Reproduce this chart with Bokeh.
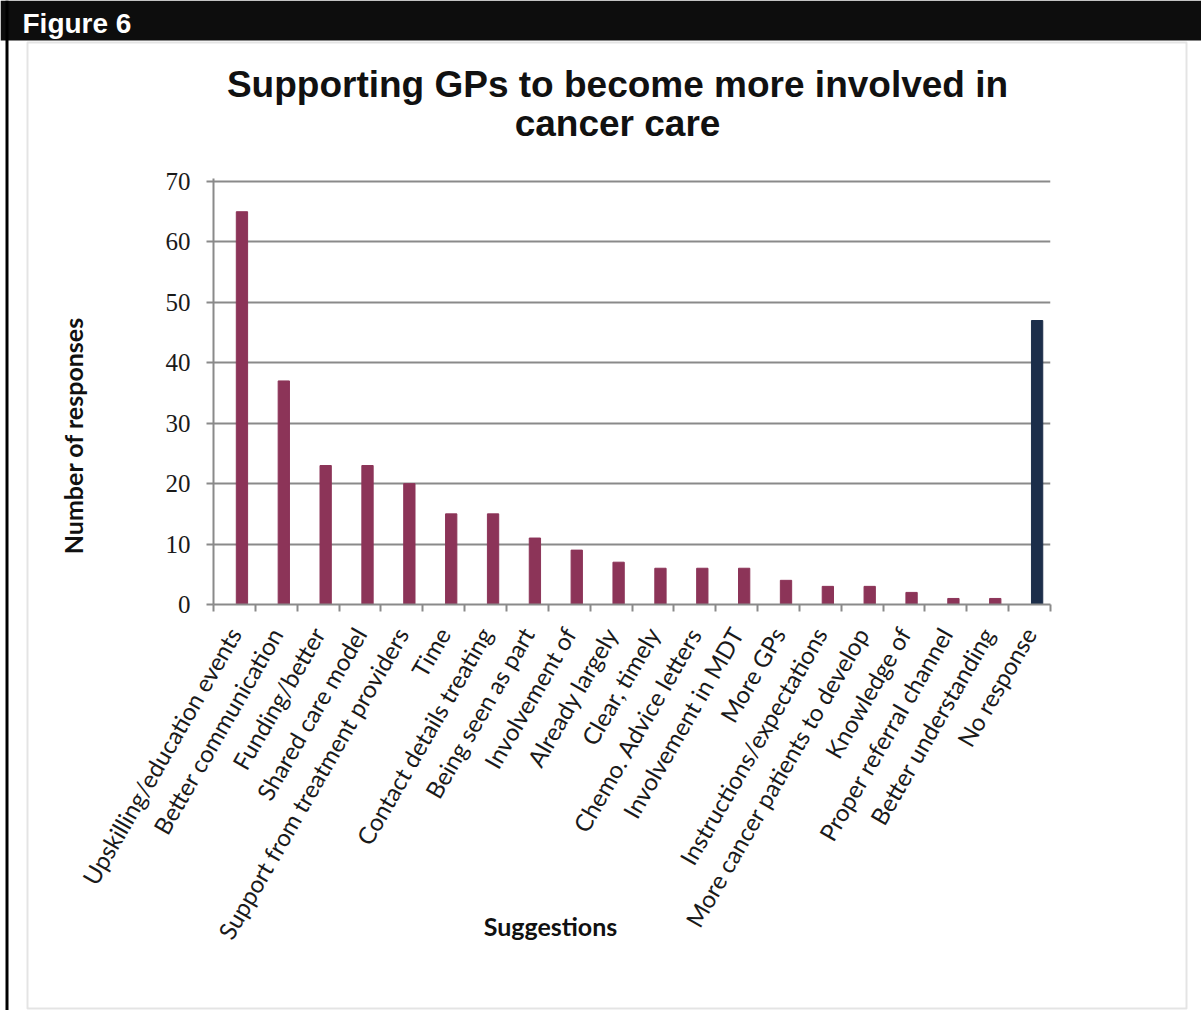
import math
from bokeh.plotting import figure
from bokeh.models import (ColumnDataSource, FixedTicker, Range1d, Label,
                          BoxAnnotation, GridBox)
from bokeh.transform import dodge
from bokeh.embed import file_html
from bokeh.resources import INLINE

categories = [
    "Upskilling/education events",
    "Better communication",
    "Funding/better",
    "Shared care model",
    "Support from treatment providers",
    "Time",
    "Contact details treating",
    "Being seen as part",
    "Involvement of",
    "Already largely",
    "Clear, timely",
    "Chemo. Advice letters",
    "Involvement in MDT",
    "More GPs",
    "Instructions/expectations",
    "More cancer patients to develop",
    "Knowledge of",
    "Proper referral channel",
    "Better understanding",
    "No response",
]
responses = [65, 37, 23, 23, 20, 15, 15, 11, 9, 7, 6, 6, 6, 4, 3, 3, 2, 1, 1, 47]
y_ticks = [0, 10, 20, 30, 40, 50, 60, 70]

MAROON = "#8C3458"
NAVY = "#1C2E4A"
colors = [MAROON] * (len(categories) - 1) + [NAVY]

W, H = 1201, 1010
n = len(categories)
centers = [i + 0.5 for i in range(n)]
src = ColumnDataSource(dict(x=centers, v=responses, color=colors, name=categories))

# ---------- background / decoration layer (full-canvas frame) ----------
bg = figure(width=W, height=H, output_backend="svg", toolbar_location=None,
            x_range=Range1d(0, W), y_range=Range1d(H, 0),
            x_axis_location=None, y_axis_location=None,
            min_border=0, frame_align=False)
bg.grid.visible = False
bg.outline_line_color = None
bg.background_fill_color = "white"
bg.border_fill_color = "white"

bg.add_layout(BoxAnnotation(left=0, right=W, top=0, bottom=40,
                            fill_color="#0d0d0d", fill_alpha=1, line_color=None))
bg.add_layout(BoxAnnotation(left=5, right=8, top=0, bottom=H,
                            fill_color="#000000", fill_alpha=1, line_color=None))
bg.add_layout(BoxAnnotation(left=27, right=1186, top=42, bottom=1008,
                            fill_alpha=0, line_color="#a6a6a6", line_width=2))

bg.add_layout(Label(x=22, y=23, text="Figure 6",
                    text_font="Liberation Sans", text_font_style="bold",
                    text_font_size="28px", text_color="white",
                    text_baseline="middle"))
bg.add_layout(Label(x=617, y=84, text="Supporting GPs to become more involved in",
                    text_font="Liberation Sans", text_font_style="bold",
                    text_font_size="37px", text_color="#111111",
                    text_align="center", text_baseline="middle"))
bg.add_layout(Label(x=617, y=123, text="cancer care",
                    text_font="Liberation Sans", text_font_style="bold",
                    text_font_size="37px", text_color="#111111",
                    text_align="center", text_baseline="middle"))
bg.add_layout(Label(x=72, y=435, text="Number of responses", angle=math.pi / 2,
                    text_font="Lato", text_font_style="bold",
                    text_font_size="25px", text_color="#111111",
                    text_align="center", text_baseline="middle"))
bg.add_layout(Label(x=550, y=925, text="Suggestions",
                    text_font="Lato", text_font_style="bold",
                    text_font_size="25px", text_color="#111111",
                    text_align="center", text_baseline="middle"))

# ---------- chart layer ----------
p = figure(width=W, height=H, output_backend="svg", toolbar_location=None,
           x_range=Range1d(0, n), y_range=Range1d(0, 70.5),
           min_border_left=213, min_border_right=151,
           min_border_top=178, min_border_bottom=406, frame_align=False)
p.background_fill_alpha = 0
p.border_fill_alpha = 0
p.outline_line_color = None

p.vbar(x=dodge("x", 0.18, range=p.x_range), top="v", width=0.27,
       color="color", source=src)

p.yaxis.ticker = FixedTicker(ticks=y_ticks)
p.yaxis.minor_tick_line_color = None
p.yaxis.axis_line_color = "#8a8a8a"
p.yaxis.axis_line_width = 2
p.yaxis.major_tick_line_color = "#8a8a8a"
p.yaxis.major_tick_line_width = 2
p.yaxis.major_tick_out = 7
p.yaxis.major_tick_in = 0
p.yaxis.major_label_standoff = 16
p.yaxis.major_label_text_font = "Liberation Serif"
p.yaxis.major_label_text_font_size = "25px"
p.yaxis.major_label_text_color = "#1a1a1a"

p.xaxis.ticker = FixedTicker(ticks=centers, minor_ticks=list(range(n + 1)))
p.xaxis.major_label_overrides = {c: name for c, name in zip(centers, categories)}
p.xaxis.major_tick_line_color = None
p.xaxis.minor_tick_line_color = "#8a8a8a"
p.xaxis.minor_tick_line_width = 2
p.xaxis.minor_tick_out = 7
p.xaxis.minor_tick_in = 0
p.xaxis.axis_line_color = "#8a8a8a"
p.xaxis.axis_line_width = 2
p.xaxis.major_label_orientation = math.pi / 3
p.xaxis.major_label_standoff = 18
p.xaxis.major_label_text_font = "Lato"
p.xaxis.major_label_text_font_size = "24px"
p.xaxis.major_label_text_color = "#1a1a1a"

p.xgrid.visible = False
p.ygrid.grid_line_color = "#8a8a8a"
p.ygrid.grid_line_width = 2

layout = GridBox(children=[(bg, 0, 0), (p, 0, 0)])

open("out.html", "w").write(file_html(layout, INLINE))
